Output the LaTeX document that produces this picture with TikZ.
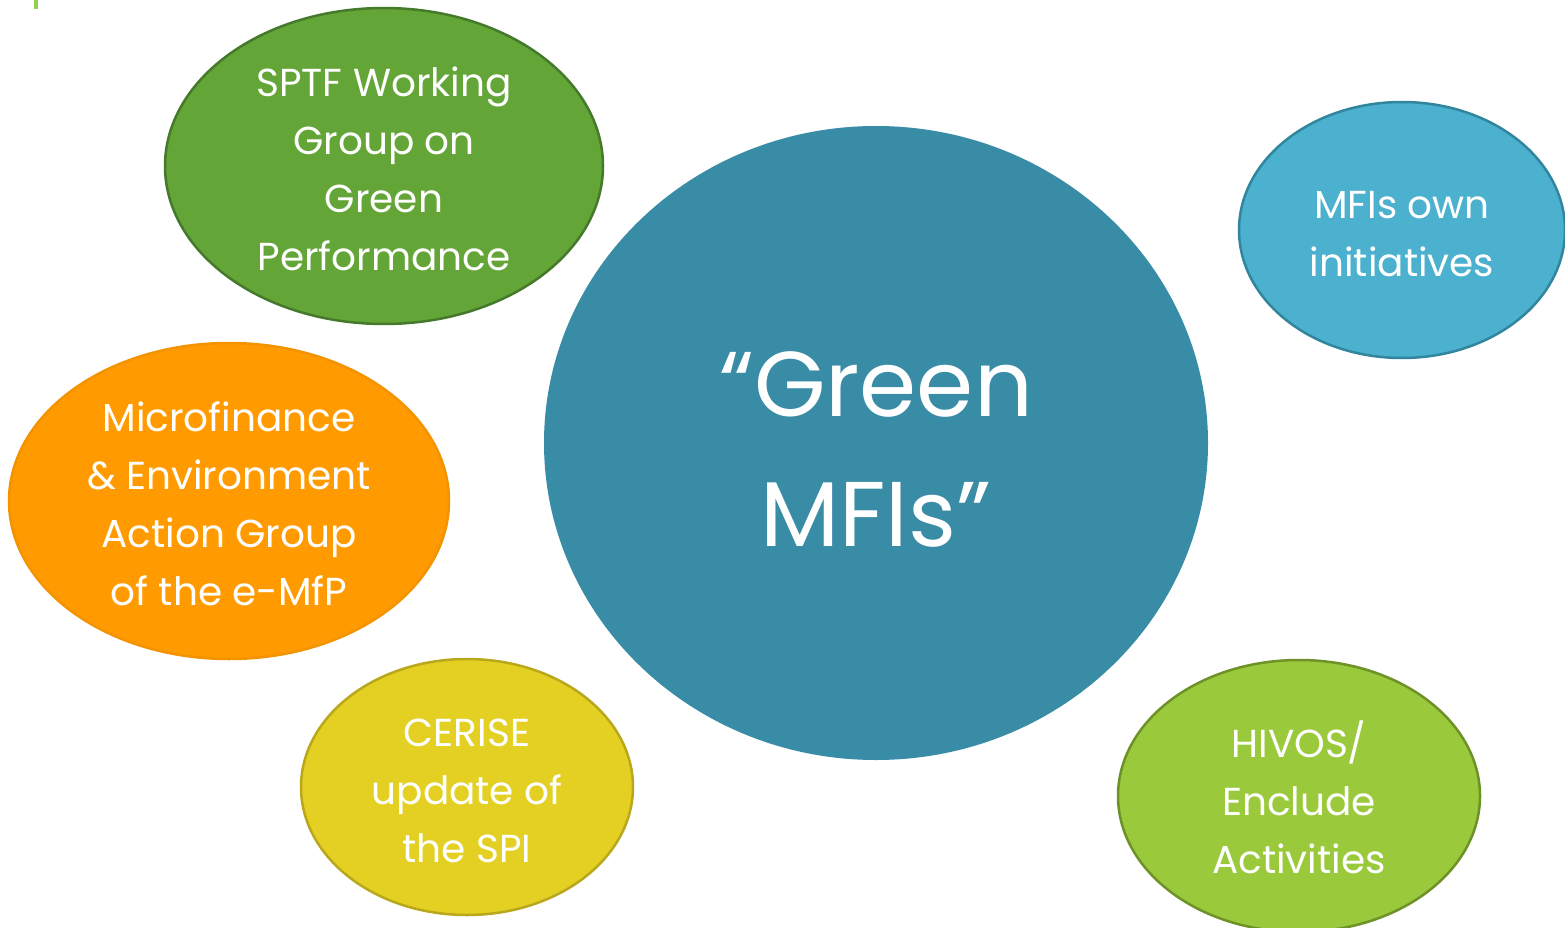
\documentclass[tikz,border=0pt]{standalone}
\usepackage{fontspec}
\setmainfont{Poppins}
\usetikzlibrary{shapes.geometric}

\definecolor{centreblue}{HTML}{388CA6}
\definecolor{leafgreen}{HTML}{63A536}
\definecolor{leafedge}{HTML}{45792B}
\definecolor{mfporange}{HTML}{FF9B00}
\definecolor{mfpedge}{HTML}{F39300}
\definecolor{ceriseyellow}{HTML}{E3D023}
\definecolor{ceriseedge}{HTML}{B9A81B}
\definecolor{skyblue}{HTML}{4BB1CF}
\definecolor{skyedge}{HTML}{31869E}
\definecolor{limegreen}{HTML}{9ACA3C}
\definecolor{limeedge}{HTML}{6E9128}
\definecolor{barline}{HTML}{92D050}

\tikzset{
  bubble/.style={ellipse, inner sep=0pt, line width=2.5pt},
  bubbletext/.style={align=center, text=white, inner sep=0pt,
    font=\fontsize{39}{58}\selectfont},
}

\begin{document}
\begin{tikzpicture}[x=1pt,y=-1pt]
  \clip (0,0) rectangle (1565,928);
  \fill[white] (0,0) rectangle (1565,928);

  % Small mark top left
  \fill[barline] (34,0) rectangle (38,9);

  % Centre
  \node[bubble, fill=centreblue, minimum width=664pt, minimum height=634pt] (green) at (876,443) {};
  \node[bubbletext, font=\fontsize{92}{130}\selectfont] (greentext) at ([yshift=-6pt]green.center)
    {``Green\\MFIs''};

  % Surrounding initiatives
  \node[bubble, fill=leafgreen, draw=leafedge, minimum width=438pt, minimum height=316pt]
    (sptf) at (384,166) {};
  \node[bubbletext] (sptftext) at ([yshift=-3pt]sptf.center)
    {SPTF Working\\Group on\\Green\\Performance};

  \node[bubble, fill=mfporange, draw=mfpedge, minimum width=440pt, minimum height=316pt]
    (emfp) at (229,501) {};
  \node[bubbletext] (emfptext) at ([yshift=-3pt]emfp.center)
    {Microfinance\\\& Environment\\Action Group\\of the e-MfP};

  \node[bubble, fill=ceriseyellow, draw=ceriseedge, minimum width=332pt, minimum height=256pt]
    (cerise) at (467,787) {};
  \node[bubbletext] (cerisetext) at ([yshift=-4pt]cerise.center)
    {CERISE\\update of\\the SPI};

  \node[bubble, fill=skyblue, draw=skyedge, minimum width=326pt, minimum height=256pt]
    (own) at (1402,230) {};
  \node[bubbletext] (owntext) at ([yshift=-4pt]own.center)
    {MFIs own\\initiatives};

  \node[bubble, fill=limegreen, draw=limeedge, minimum width=362pt, minimum height=272pt]
    (hivos) at (1299,796) {};
  \node[bubbletext] (hivostext) at ([yshift=-1pt]hivos.center)
    {HIVOS/\\Enclude\\Activities};
\end{tikzpicture}
\end{document}
